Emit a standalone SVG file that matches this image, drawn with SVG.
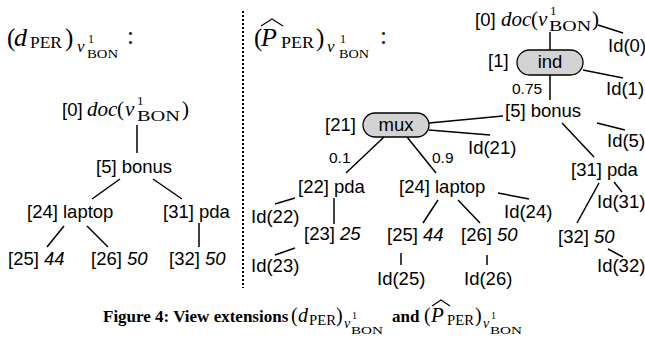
<svg xmlns="http://www.w3.org/2000/svg" width="645" height="339" viewBox="0 0 645 339">
<style>
.l{font-family:"Liberation Sans",Arial,sans-serif;font-size:18.5px;fill:#000}
.p{font-family:"Liberation Sans",Arial,sans-serif;font-size:15.5px;fill:#000}
.i{font-style:italic}
.m{font-family:"Liberation Serif","Times New Roman",serif;fill:#000}
.mi{font-family:"Liberation Serif","Times New Roman",serif;font-style:italic;fill:#000}
.cap{font-family:"Liberation Serif","Times New Roman",serif;font-weight:bold;font-size:17px;fill:#000}
.e line{stroke:#000;stroke-width:1.5;fill:none}
.hat{stroke:#000;stroke-width:1.1;fill:none}
.box{fill:#d3d3d3;stroke:#000;stroke-width:1.3}
</style>
<rect width="645" height="339" fill="#fff"/>
<line x1="243" y1="11" x2="243" y2="288" stroke="#000" stroke-width="2" stroke-dasharray="2,2"/>

<g id="title-left">
<text class="m" x="7" y="46" font-size="25">(</text>
<text class="mi" x="14" y="46" font-size="26">d</text>
<text class="m" x="30" y="48" font-size="16" textLength="32" lengthAdjust="spacingAndGlyphs">PER</text>
<text class="m" x="65" y="46" font-size="25">)</text>
<text class="mi" x="77" y="52" font-size="17">v</text>
<text class="m" x="88" y="43" font-size="12">1</text>
<text class="m" x="87" y="58" font-size="13" textLength="31" lengthAdjust="spacingAndGlyphs">BON</text>
<text class="m" x="127" y="44" font-size="25">:</text>
</g>

<g id="title-right">
<text class="m" x="254" y="46" font-size="25">(</text>
<text class="mi" x="261" y="46" font-size="26">P</text>
<polyline class="hat" points="261,26 272,19 283,26"/>
<text class="m" x="281" y="48" font-size="16" textLength="33" lengthAdjust="spacingAndGlyphs">PER</text>
<text class="m" x="316" y="46" font-size="25">)</text>
<text class="mi" x="327" y="52" font-size="17">v</text>
<text class="m" x="340" y="43" font-size="12">1</text>
<text class="m" x="339" y="58" font-size="13" textLength="30" lengthAdjust="spacingAndGlyphs">BON</text>
<text class="m" x="380" y="44" font-size="25">:</text>
</g>

<g id="connectors" class="e">
<line x1="137" y1="125" x2="137" y2="153"/>
<line x1="120" y1="179" x2="92" y2="199"/>
<line x1="153" y1="179" x2="182" y2="199"/>
<line x1="64" y1="226" x2="47" y2="247"/>
<line x1="87" y1="226" x2="108" y2="247"/>
<line x1="199" y1="223" x2="199" y2="247"/>
<line x1="550" y1="32" x2="550" y2="50"/>
<line x1="598" y1="25" x2="623" y2="33"/>
<line x1="583" y1="70" x2="623" y2="78"/>
<line x1="550" y1="75" x2="550" y2="100"/>
<line x1="429" y1="123" x2="503" y2="116"/>
<line x1="429" y1="130" x2="490" y2="135"/>
<line x1="597" y1="123" x2="625" y2="130"/>
<line x1="562" y1="123" x2="594" y2="157"/>
<line x1="614" y1="182" x2="622" y2="192"/>
<line x1="599" y1="183" x2="577" y2="223"/>
<line x1="608" y1="249" x2="623" y2="257"/>
<line x1="384" y1="137" x2="346" y2="173"/>
<line x1="407" y1="137" x2="436" y2="173"/>
<line x1="295" y1="198" x2="275" y2="204"/>
<line x1="334" y1="198" x2="334" y2="224"/>
<line x1="295" y1="248" x2="275" y2="255"/>
<line x1="438" y1="200" x2="423" y2="223"/>
<line x1="401" y1="253" x2="401" y2="265"/>
<line x1="458" y1="200" x2="480" y2="223"/>
<line x1="487" y1="255" x2="487" y2="265"/>
<line x1="498" y1="193" x2="529" y2="199"/>
</g>

<g id="L0">
<text class="l" x="62" y="116">[0]</text>
<text class="mi" x="87" y="116" font-size="21">doc</text>
<text class="m" x="117" y="116" font-size="21">(</text>
<text class="mi" x="125" y="116" font-size="21">v</text>
<text class="m" x="137" y="105" font-size="13">1</text>
<text class="m" x="137" y="121" font-size="14" textLength="43" lengthAdjust="spacingAndGlyphs">BON</text>
<text class="m" x="182" y="116" font-size="21">)</text>
</g>
<g id="L5"><text class="l" x="96" y="173">[5] bonus</text></g>
<g id="L24"><text class="l" x="27" y="218">[24] laptop</text></g>
<g id="L31"><text class="l" x="163" y="218">[31] pda</text></g>
<g id="L25"><text class="l" x="8" y="265">[25] <tspan class="i">44</tspan></text></g>
<g id="L26"><text class="l" x="91" y="265">[26] <tspan class="i">50</tspan></text></g>
<g id="L32"><text class="l" x="169" y="265">[32] <tspan class="i">50</tspan></text></g>

<g id="R0">
<text class="l" x="475" y="26">[0]</text>
<text class="mi" x="501" y="26" font-size="21">doc</text>
<text class="m" x="531" y="26" font-size="21">(</text>
<text class="mi" x="538" y="26" font-size="21">v</text>
<text class="m" x="550" y="15" font-size="13">1</text>
<text class="m" x="549" y="31" font-size="14" textLength="42" lengthAdjust="spacingAndGlyphs">BON</text>
<text class="m" x="592" y="26" font-size="21">)</text>
</g>
<g id="Rid0"><text class="l" x="608" y="52">Id(0)</text></g>
<g id="R1">
<text class="l" x="488" y="67">[1]</text>
<rect class="box" x="517" y="50" width="66" height="25" rx="12.5"/>
<text class="l" x="550" y="68" text-anchor="middle">ind</text>
</g>
<g id="Rid1"><text class="l" x="606" y="95">Id(1)</text></g>
<g id="p075"><text class="p" x="512" y="94">0.75</text></g>
<g id="R5"><text class="l" x="505" y="117">[5] bonus</text></g>
<g id="R21">
<text class="l" x="325" y="131">[21]</text>
<rect class="box" x="363" y="113" width="66" height="24" rx="12"/>
<text class="l" x="396" y="131" text-anchor="middle">mux</text>
</g>
<g id="Rid21"><text class="l" x="468" y="154">Id(21)</text></g>
<g id="Rid5"><text class="l" x="607" y="147">Id(5)</text></g>
<g id="R31"><text class="l" x="571" y="176">[31] pda</text></g>
<g id="Rid31"><text class="l" x="597" y="208">Id(31)</text></g>
<g id="R32"><text class="l" x="558" y="243">[32] <tspan class="i">50</tspan></text></g>
<g id="Rid32"><text class="l" x="597" y="272">Id(32)</text></g>
<g id="p01"><text class="p" x="329" y="163">0.1</text></g>
<g id="p09"><text class="p" x="432" y="163">0.9</text></g>
<g id="R22"><text class="l" x="298" y="193">[22] pda</text></g>
<g id="R24"><text class="l" x="399" y="193">[24] laptop</text></g>
<g id="Rid24"><text class="l" x="504" y="218">Id(24)</text></g>
<g id="Rid22"><text class="l" x="251" y="223">Id(22)</text></g>
<g id="R23"><text class="l" x="304" y="240">[23] <tspan class="i">25</tspan></text></g>
<g id="Rid23"><text class="l" x="251" y="272">Id(23)</text></g>
<g id="R25"><text class="l" x="387" y="241">[25] <tspan class="i">44</tspan></text></g>
<g id="R26"><text class="l" x="461" y="241">[26] <tspan class="i">50</tspan></text></g>
<g id="Rid25"><text class="l" x="377" y="285">Id(25)</text></g>
<g id="Rid26"><text class="l" x="464" y="285">Id(26)</text></g>

<g id="caption">
<text class="cap" x="103" y="322">Figure 4: View extensions</text>
<text class="m" x="291" y="322" font-size="20">(</text>
<text class="mi" x="298" y="322" font-size="20">d</text>
<text class="m" x="309" y="325" font-size="14" textLength="27" lengthAdjust="spacingAndGlyphs">PER</text>
<text class="m" x="336" y="322" font-size="20">)</text>
<text class="mi" x="344" y="328" font-size="14">v</text>
<text class="m" x="352" y="319" font-size="10">1</text>
<text class="m" x="351" y="334" font-size="11" textLength="32" lengthAdjust="spacingAndGlyphs">BON</text>
<text class="cap" x="392" y="322">and</text>
<text class="m" x="424" y="322" font-size="20">(</text>
<text class="mi" x="431" y="322" font-size="21">P</text>
<polyline class="hat" points="432,306 441,300 450,306" stroke-width="1"/>
<text class="m" x="447" y="325" font-size="14" textLength="27" lengthAdjust="spacingAndGlyphs">PER</text>
<text class="m" x="475" y="322" font-size="20">)</text>
<text class="mi" x="483" y="328" font-size="14">v</text>
<text class="m" x="491" y="319" font-size="10">1</text>
<text class="m" x="490" y="334" font-size="11" textLength="32" lengthAdjust="spacingAndGlyphs">BON</text>
</g>
</svg>
